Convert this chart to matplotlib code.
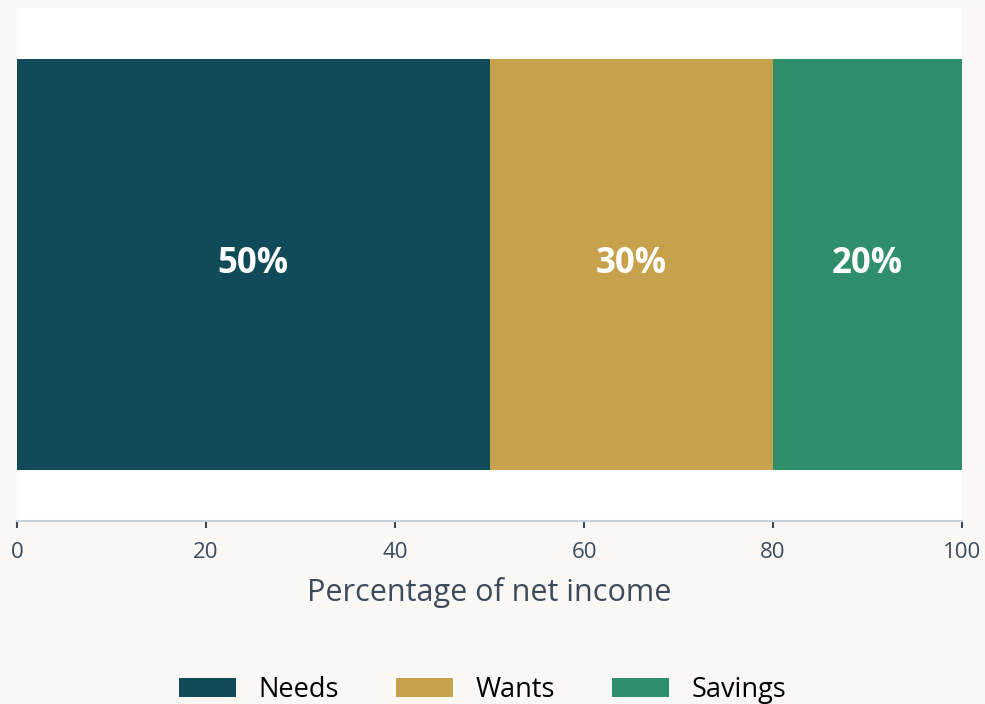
import matplotlib.pyplot as plt

categories = ["Needs", "Wants", "Savings"]
shares = [50, 30, 20]
colors = ["#114b5a", "#c8a14d", "#2f8f6a"]

plt.rcParams["font.family"] = ["Open Sans", "DejaVu Sans"]

fig = plt.figure(figsize=(9.85, 7.04), dpi=100, facecolor="#f9f8f4")
ax = fig.add_axes([0.01726, 0.26, 0.9594, 0.7286])
ax.set_facecolor("white")

left = 0
for name, value, color in zip(categories, shares, colors):
    ax.barh([0], [value], left=left, height=0.8, color=color, label=name)
    ax.text(left + value / 2, 0, f"{value}%", ha="center", va="center",
            color="white", fontsize=25, fontweight="bold")
    left += value

ax.set_xlim(0, 100)
ax.set_ylim(-0.5, 0.5)
ax.set_yticks([])
ax.set_xticks([0, 20, 40, 60, 80, 100])

for side in ["top", "right", "left"]:
    ax.spines[side].set_visible(False)
ax.spines["bottom"].set_color("#c9d1d9")
ax.spines["bottom"].set_linewidth(1.5)
ax.tick_params(axis="x", colors="#3b4a5c", labelsize=16, length=5,
               width=1.5, pad=10)

ax.set_xlabel("Percentage of net income", fontsize=22, color="#3b4a5c",
              labelpad=10)

fig.legend(loc="center", bbox_to_anchor=(0.49, 0.02), ncol=3, frameon=False,
           fontsize=19.5, handlelength=2.1, handleheight=0.72,
           handletextpad=0.83, columnspacing=2.1)

plt.savefig("out.png", dpi=100, facecolor=fig.get_facecolor())
plt.close()
